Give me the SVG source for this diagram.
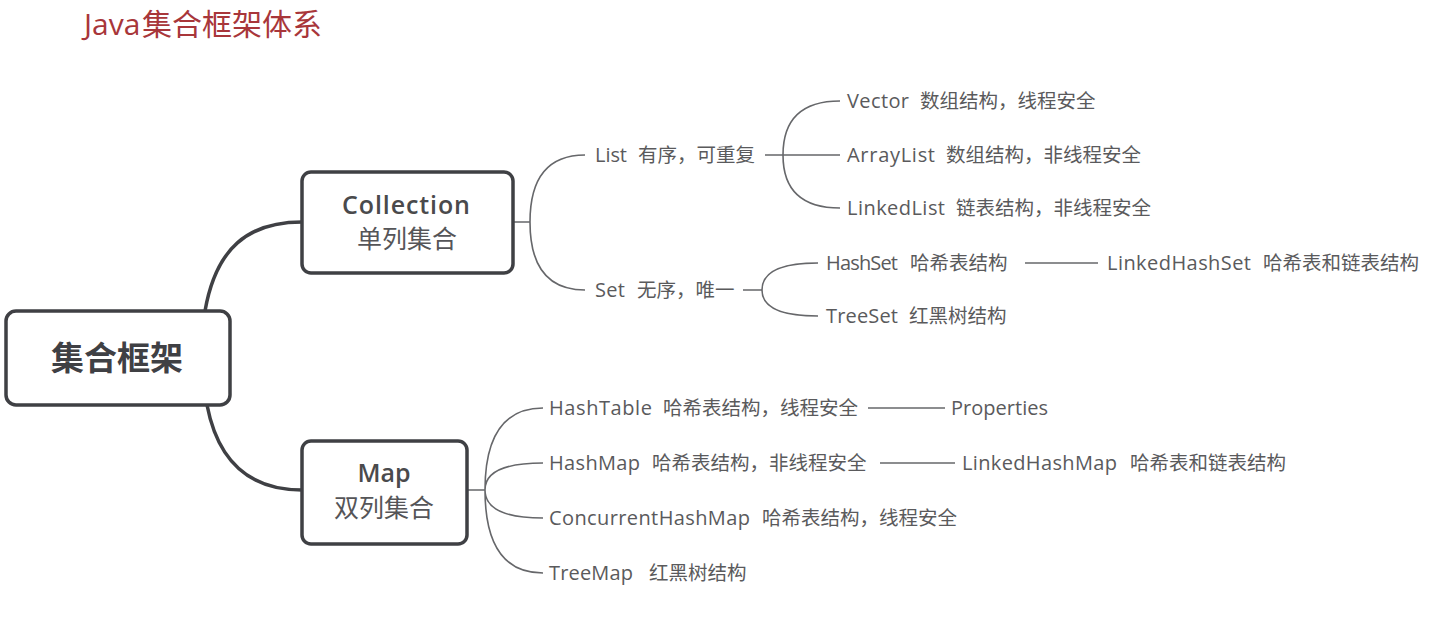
<svg xmlns="http://www.w3.org/2000/svg" width="1429" height="637" viewBox="0 0 1429 637">
<style>
.bg{fill:#ffffff}
.title{font-family:"Open Sans","Noto Sans CJK SC",sans-serif;font-size:30px;fill:#a8363a}
.titlecj{font-family:"Noto Sans CJK SC",sans-serif;font-size:30px;fill:#a8363a}
.box{fill:#ffffff;stroke:#3f4044;stroke-width:3.5}
.root{font-family:"Noto Sans CJK SC",sans-serif;font-size:33px;font-weight:700;fill:#3f4044}
.h1{font-family:"Open Sans","Noto Sans CJK SC",sans-serif;font-size:25px;font-weight:600;fill:#4a4a4c}
.h2{font-family:"Noto Sans CJK SC",sans-serif;font-size:25px;fill:#555558}
.lt{font-family:"Open Sans","Noto Sans CJK SC",sans-serif;font-size:20px;fill:#5a5a5c}
.cj{font-family:"Noto Sans CJK SC",sans-serif;font-size:19.5px;fill:#5a5a5c}
.thick{fill:none;stroke:#3f4044;stroke-width:3.5}
.thin{fill:none;stroke:#66676a;stroke-width:1.6}
</style>
<rect class="bg" x="0" y="0" width="1429" height="637"/>
<g id="title">
  <text class="title" x="84" y="35">Java</text>
  <text class="titlecj" x="142" y="35">集合框架体系</text>
</g>

<g id="connectors">
  <path class="thick" d="M205,311 C216,248 248,222 302,222"/>
  <path class="thick" d="M207,405 C218,462 250,490 302,490"/>
  <path class="thin" d="M513,222 H530 M530,222 Q530,155 585,155 M530,222 Q530,290 585,290"/>
  <path class="thin" d="M765,155 H783 M783,155 Q783,101 840,101 M783,155 H840 M783,155 Q783,208 840,208"/>
  <path class="thin" d="M743,290 H762 M762,290 Q762,263 818,263 M762,290 Q762,316 818,316"/>
  <path class="thin" d="M1025,263 H1098"/>
  <path class="thin" d="M467,490 H485 M485,490 Q485,408 543,408 M485,490 Q485,463 543,463 M485,490 Q485,518 543,518 M485,490 Q485,573 543,573"/>
  <path class="thin" d="M868,408 H945"/>
  <path class="thin" d="M880,463 H955"/>
</g>

<g id="root">
  <rect class="box" x="6" y="311" width="224" height="94" rx="10"/>
  <text class="root" x="117" y="370" text-anchor="middle">集合框架</text>
</g>

<g id="collection">
  <rect class="box" x="302" y="172" width="211" height="101" rx="9"/>
  <text class="h1" x="342" y="214" textLength="128">Collection</text>
  <text class="h2" x="407" y="248" text-anchor="middle">单列集合</text>
</g>

<g id="map">
  <rect class="box" x="302" y="441" width="165" height="103" rx="9"/>
  <text class="h1" x="384" y="482" text-anchor="middle">Map</text>
  <text class="h2" x="384" y="517" text-anchor="middle">双列集合</text>
</g>

<g id="list">
  <text class="lt" x="595" y="162" textLength="32">List</text>
  <text class="cj" x="638" y="162">有序，可重复</text>
</g>
<g id="set">
  <text class="lt" x="595" y="297" textLength="30">Set</text>
  <text class="cj" x="637" y="297">无序，唯一</text>
</g>

<g id="vector">
  <text class="lt" x="847" y="108" textLength="62">Vector</text>
  <text class="cj" x="920" y="108">数组结构，线程安全</text>
</g>
<g id="arraylist">
  <text class="lt" x="847" y="162" textLength="88">ArrayList</text>
  <text class="cj" x="946" y="162">数组结构，非线程安全</text>
</g>
<g id="linkedlist">
  <text class="lt" x="847" y="215" textLength="98">LinkedList</text>
  <text class="cj" x="956" y="215">链表结构，非线程安全</text>
</g>

<g id="hashset">
  <text class="lt" x="826" y="270" textLength="72">HashSet</text>
  <text class="cj" x="910" y="270">哈希表结构</text>
</g>
<g id="linkedhashset">
  <text class="lt" x="1107" y="270" textLength="144">LinkedHashSet</text>
  <text class="cj" x="1263" y="270">哈希表和链表结构</text>
</g>
<g id="treeset">
  <text class="lt" x="826" y="323" textLength="72">TreeSet</text>
  <text class="cj" x="909" y="323">红黑树结构</text>
</g>

<g id="hashtable">
  <text class="lt" x="549" y="415" textLength="103">HashTable</text>
  <text class="cj" x="663" y="415">哈希表结构，线程安全</text>
</g>
<g id="properties">
  <text class="lt" x="951" y="415" textLength="97">Properties</text>
</g>
<g id="hashmap">
  <text class="lt" x="549" y="470" textLength="91">HashMap</text>
  <text class="cj" x="652" y="470">哈希表结构，非线程安全</text>
</g>
<g id="linkedhashmap">
  <text class="lt" x="962" y="470" textLength="155">LinkedHashMap</text>
  <text class="cj" x="1130" y="470">哈希表和链表结构</text>
</g>
<g id="concurrenthashmap">
  <text class="lt" x="549" y="525" textLength="201">ConcurrentHashMap</text>
  <text class="cj" x="762" y="525">哈希表结构，线程安全</text>
</g>
<g id="treemap">
  <text class="lt" x="549" y="580" textLength="84">TreeMap</text>
  <text class="cj" x="649" y="580">红黑树结构</text>
</g>
</svg>
